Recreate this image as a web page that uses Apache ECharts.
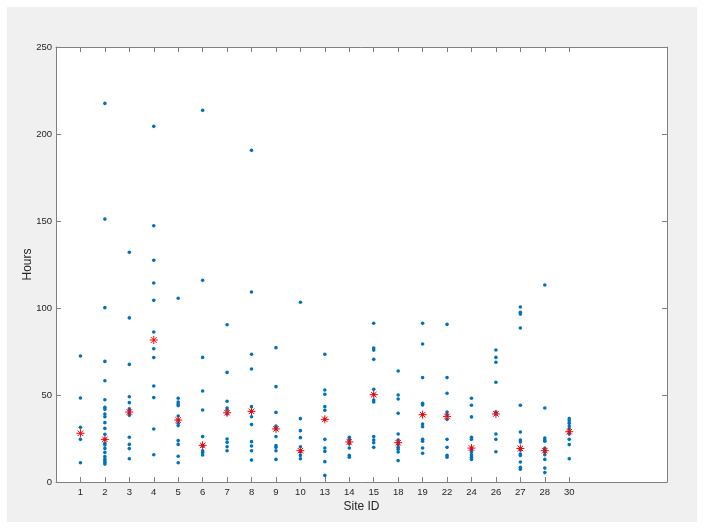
<!DOCTYPE html>
<html>
<head>
<meta charset="utf-8">
<script src="https://cdn.jsdelivr.net/npm/echarts@6/dist/echarts.min.js"></script>
<style>
html, body { margin: 0; padding: 0; background: #ffffff; }
#frame { position: absolute; left: 7px; top: 7px; width: 690px; height: 515px; background: #f0f0f0; }
#plotbg { position: absolute; left: 56px; top: 47px; width: 611px; height: 435px; background: #ffffff; }
#chart { position: absolute; left: 0; top: 0; width: 704px; height: 529px; }
</style>
</head>
<body>
<div id="frame"></div>
<div id="plotbg"></div>
<div id="chart"></div>
<script>
const siteIds = ['1','2','3','4','5','6','7','8','9','10','13','14','15','18','19','22','24','26','27','28','30'];

const site1 = [72.4, 48.3, 31.4, 24.5, 11.1];
const site2 = [217.6, 151.1, 100.2, 69.3, 58.2, 47.3, 42.9, 41.8, 39.1, 37.5, 34.1, 30.8, 27.4, 24.5, 22.2, 21.3, 19.3, 17.0, 14.6, 13.2, 12.3, 11.3, 10.3];
const site3 = [132.0, 94.3, 67.6, 49.0, 45.6, 42.1, 41.0, 39.8, 38.3, 25.7, 21.6, 19.2, 13.4];
const site4 = [204.4, 147.3, 127.4, 114.4, 104.4, 86.2, 76.6, 71.5, 55.2, 48.5, 30.5, 15.7];
const site5 = [105.6, 48.1, 46.0, 44.8, 43.9, 37.9, 35.6, 33.7, 32.4, 23.8, 21.6, 14.8, 11.1];
const site6 = [213.6, 115.9, 71.6, 52.3, 41.4, 26.1, 21.1, 20.5, 18.0, 16.9, 15.5];
const site7 = [90.4, 63.0, 46.4, 42.5, 41.4, 39.1, 24.7, 22.8, 20.3, 18.0];
const site8 = [190.6, 109.2, 73.4, 64.9, 43.3, 40.6, 37.5, 33.0, 23.2, 20.7, 18.0, 12.6];
const site9 = [77.2, 54.8, 40.0, 32.2, 31.2, 30.5, 26.1, 20.9, 19.9, 18.0, 13.0];
const site10 = [103.3, 36.4, 29.5, 25.5, 20.3, 18.0, 17.2, 15.3, 13.4];
const site13 = [73.4, 52.9, 50.4, 43.3, 41.2, 36.0, 24.5, 19.5, 17.6, 11.7, 3.8];
const site14 = [25.7, 24.5, 23.0, 22.0, 19.5, 15.3, 14.2];
const site15 = [91.2, 77.0, 75.8, 70.5, 53.3, 50.2, 47.1, 46.0, 26.1, 24.1, 22.6, 19.9];
const site18 = [63.8, 50.0, 47.7, 39.5, 27.6, 24.1, 22.6, 21.5, 19.9, 18.8, 17.2, 12.3];
const site19 = [91.2, 79.3, 60.0, 45.2, 44.3, 38.7, 33.3, 31.8, 24.5, 23.4, 19.5, 16.5];
const site22 = [90.6, 60.0, 51.0, 40.2, 38.7, 36.0, 24.5, 19.9, 15.3, 14.2];
const site24 = [48.1, 44.1, 37.4, 25.7, 24.5, 19.5, 18.4, 17.2, 15.7, 14.2, 13.0];
const site26 = [75.9, 71.6, 68.8, 57.3, 40.2, 39.1, 27.6, 24.5, 17.4];
const site27 = [100.6, 97.5, 96.5, 88.5, 44.1, 28.7, 24.1, 23.0, 19.3, 18.4, 16.1, 15.3, 11.5, 8.4, 7.3];
const site28 = [113.2, 42.5, 25.3, 24.1, 23.4, 19.3, 18.0, 17.2, 15.7, 13.0, 8.0, 5.4];
const site30 = [36.4, 35.2, 33.7, 32.2, 30.7, 28.9, 27.6, 24.5, 21.5, 13.4];

const siteHours = [site1, site2, site3, site4, site5, site6, site7, site8, site9, site10, site13, site14, site15, site18, site19, site22, site24, site26, site27, site28, site30];

const centerHours = [28.0, 24.5, 40.2, 81.6, 35.6, 21.1, 39.8, 40.6, 30.5, 18.0, 36.0, 23.0, 50.2, 22.6, 38.7, 37.7, 19.5, 39.1, 19.3, 18.0, 28.9];

const tickPositions = siteIds.map((_, i) => i + 1);

const dotData = [];
siteHours.forEach((arr, i) => arr.forEach(v => dotData.push([i + 1, v])));
const centerData = centerHours.map((v, i) => [i + 1, v]);

const axisColor = '#808080';
const textColor = '#262626';
const fontFamily = 'Liberation Sans, Arial, Helvetica, sans-serif';

const chart = echarts.init(document.getElementById('chart'), null, { renderer: 'canvas' });
chart.setOption({
  backgroundColor: 'transparent',
  animation: false,
  textStyle: { fontFamily: fontFamily },
  grid: { left: 56, right: 37, top: 47, bottom: 47, show: false },
  xAxis: [
    {
      type: 'value', position: 'bottom', min: 0, max: 25,
      name: 'Site ID', nameLocation: 'middle', nameGap: 19, nameMoveOverlap: false,
      nameTextStyle: { fontSize: 12, color: textColor, fontFamily: fontFamily },
      axisLine: { show: true, onZero: false, lineStyle: { color: axisColor, width: 1 } },
      axisTick: { show: true, inside: true, length: 5, customValues: tickPositions, lineStyle: { color: axisColor } },
      axisLabel: {
        show: true, customValues: tickPositions, margin: 5,
        fontSize: 9.5, color: textColor, fontFamily: fontFamily,
        formatter: v => siteIds[Math.round(v) - 1] || ''
      },
      splitLine: { show: false }
    },
    {
      type: 'value', position: 'top', min: 0, max: 25,
      axisLine: { show: true, onZero: false, lineStyle: { color: axisColor, width: 1 } },
      axisTick: { show: true, inside: true, length: 5, customValues: tickPositions, lineStyle: { color: axisColor } },
      axisLabel: { show: false },
      splitLine: { show: false }
    }
  ],
  yAxis: [
    {
      type: 'value', position: 'left', min: 0, max: 250, interval: 50,
      name: 'Hours', nameLocation: 'middle', nameGap: 22, nameRotate: 90, nameMoveOverlap: false,
      nameTextStyle: { fontSize: 12, color: textColor, fontFamily: fontFamily },
      axisLine: { show: true, onZero: false, lineStyle: { color: axisColor, width: 1 } },
      axisTick: { show: true, inside: true, length: 5, lineStyle: { color: axisColor } },
      axisLabel: { show: true, margin: 4, fontSize: 9.5, color: textColor, fontFamily: fontFamily },
      splitLine: { show: false }
    },
    {
      type: 'value', position: 'right', min: 0, max: 250, interval: 50,
      axisLine: { show: true, onZero: false, lineStyle: { color: axisColor, width: 1 } },
      axisTick: { show: true, inside: true, length: 5, lineStyle: { color: axisColor } },
      axisLabel: { show: false },
      splitLine: { show: false }
    }
  ],
  series: [
    {
      type: 'scatter', xAxisIndex: 0, yAxisIndex: 0,
      data: dotData, symbol: 'circle', symbolSize: 3.6,
      itemStyle: { color: '#0072BD', opacity: 1 },
      silent: true
    },
    {
      type: 'scatter', xAxisIndex: 0, yAxisIndex: 0,
      data: centerData,
      symbol: 'path://M5,0L5,10M0,5L10,5M1.5,1.5L8.5,8.5M1.5,8.5L8.5,1.5',
      symbolSize: 8,
      itemStyle: { color: 'rgba(0,0,0,0)', borderColor: '#ff0000', borderWidth: 1, opacity: 1 },
      z: 3, silent: true
    }
  ]
});
</script>
</body>
</html>
